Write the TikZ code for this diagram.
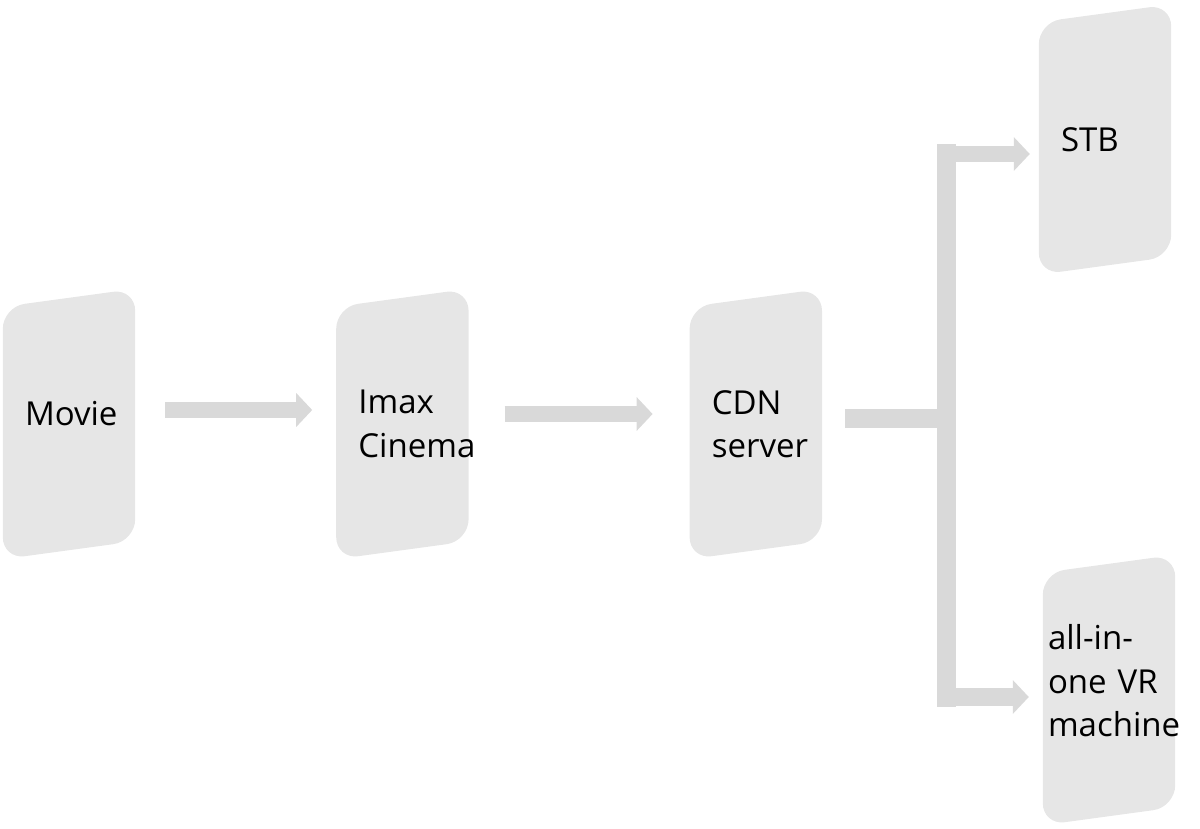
\documentclass[tikz,border=0pt]{standalone}
\usepackage{fontspec}
\setmainfont{Open Sans}
\usetikzlibrary{arrows.meta,positioning,backgrounds}
\definecolor{scrFill}{HTML}{E6E6E6}
\definecolor{flowGray}{HTML}{D9D9D9}
\tikzset{
  screen/.style={minimum width=132pt, minimum height=252pt, inner xsep=22pt, inner ysep=0pt,
                 text width=88pt, align=left, font=\fontsize{33}{43.5}\selectfont},
  flow/.style={-{Triangle[length=16pt, width=33pt]}, line width=16pt, draw=flowGray},
  trunk/.style={line width=19pt, draw=flowGray},
}

\begin{document}
\begin{tikzpicture}[x=1pt, y=-1pt, node distance=201pt]
  \useasboundingbox (0,0) rectangle (1200,829);
  \node[screen, text depth=22pt] (movie) at (69,424) {Movie};
  \node[screen, right=of movie] (imax) {Imax\\Cinema};
  \node[screen, right=221pt of imax] (cdn) {CDN\\server};
  \node[screen] (stb) at (1105,139.5) {STB};
  \node[screen, inner xsep=5pt, text width=122pt, text depth=106pt] (vr) at (1109,690) {all-in-\\one VR\\machine};
  % slanted cards behind the labels
  \begin{scope}[on background layer]
    \foreach \n in {movie,imax,cdn,stb,vr}
      \fill[scrFill, rounded corners=22pt]
        ([yshift=-9pt]\n.north west) -- ([yshift=9pt]\n.north east)
        -- ([yshift=9pt]\n.south east) -- ([yshift=-9pt]\n.south west) -- cycle;
  \end{scope}
  \draw[flow, shorten <=30pt, shorten >=24pt] ([yshift=14pt]movie.east) -- ([yshift=14pt]imax.west);
  \draw[flow, shorten <=36pt, shorten >=37pt] ([yshift=10pt]imax.east) -- ([yshift=10pt]cdn.west);
  % split to the two end devices
  \coordinate (fork) at (946,418.5);
  \coordinate (stbin) at ([xshift=-9pt, yshift=-14.5pt]stb.west);
  \coordinate (vrin) at ([xshift=-14pt, yshift=-7pt]vr.west);
  \draw[trunk, shorten <=23pt] ([yshift=5.5pt]cdn.east) -- (fork);
  \draw[trunk, line cap=rect] (fork |- stbin) -- (fork |- vrin);
  \draw[flow] (fork |- stbin) -- (stbin);
  \draw[flow, line width=18pt] (fork |- vrin) -- (vrin);
\end{tikzpicture}
\end{document}
